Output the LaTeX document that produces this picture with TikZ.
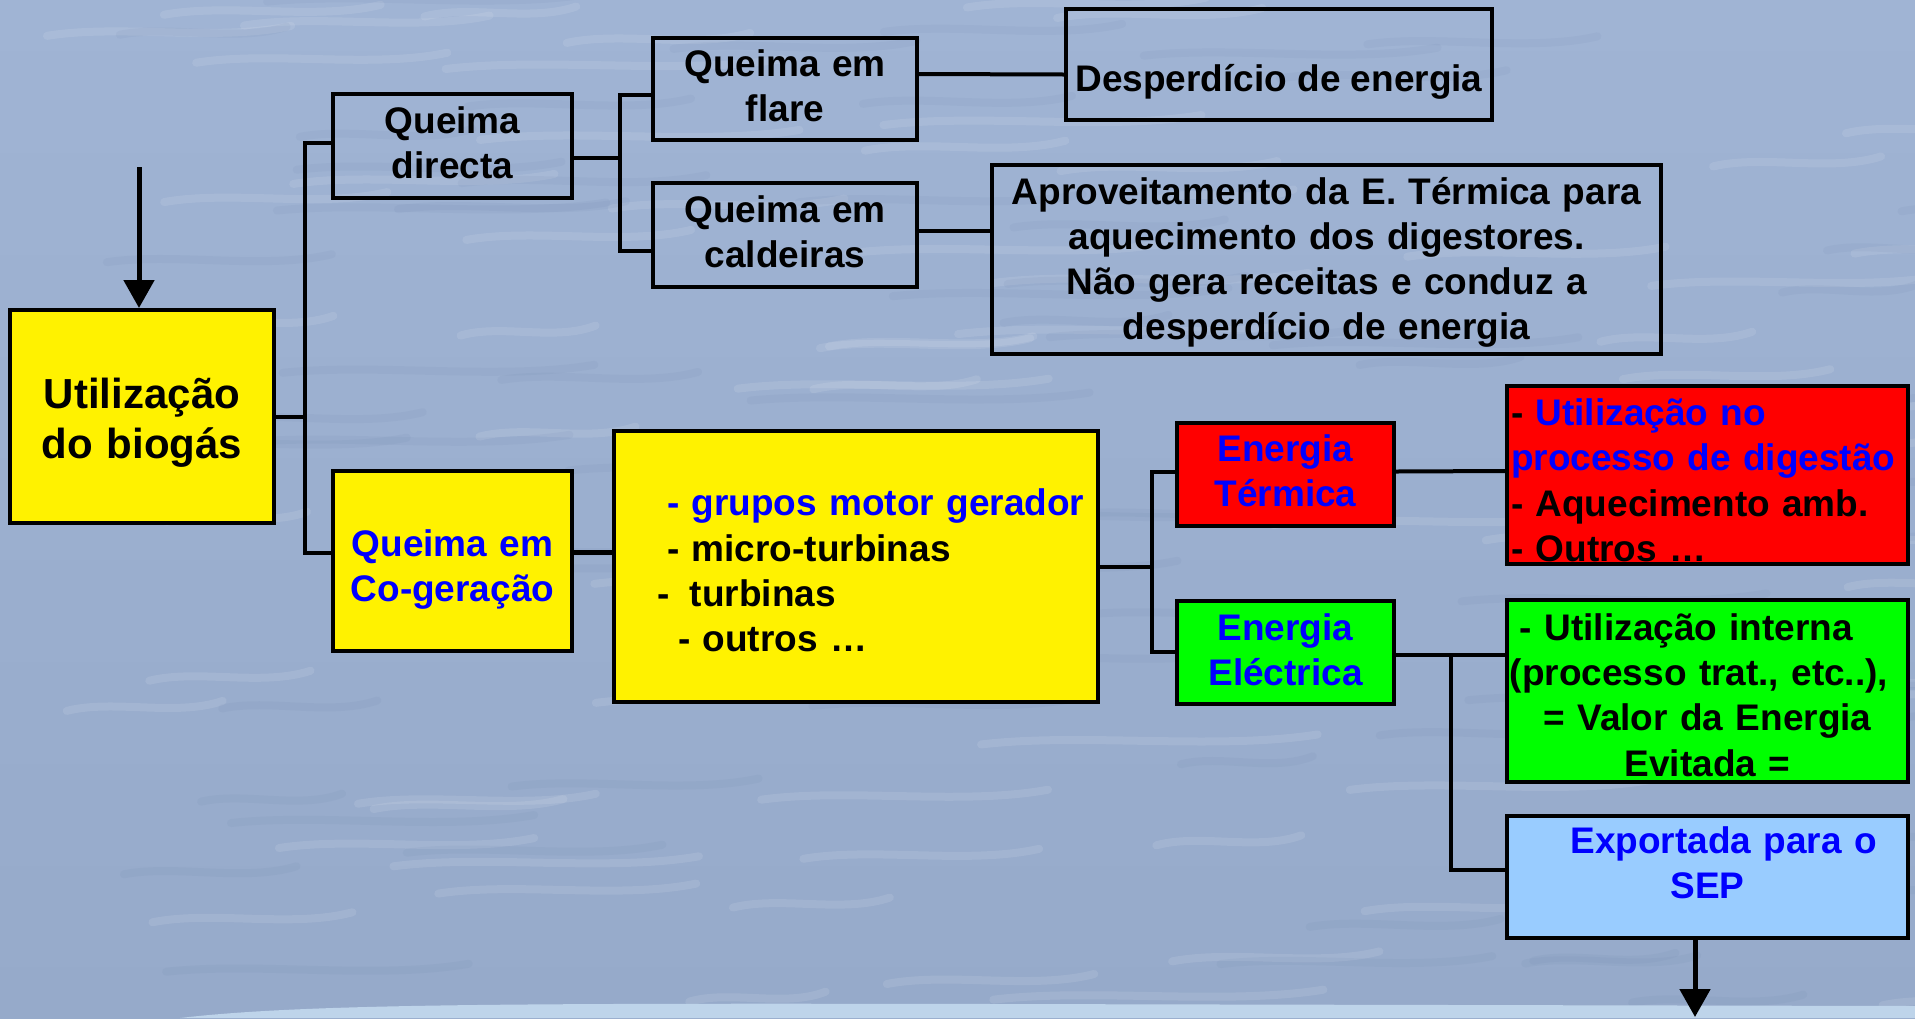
\documentclass[tikz,border=0pt]{standalone}
\usepackage{fontspec}
\setmainfont{Liberation Sans}
\usepackage{xcolor}
\usepackage{tikz}
\usetikzlibrary{arrows.meta}
\definecolor{sepblue}{RGB}{153,204,255}
\definecolor{watertop}{RGB}{160,180,212}
\definecolor{watermid}{RGB}{172,194,226}
\definecolor{waterbot}{RGB}{150,170,202}
\definecolor{waterdark}{RGB}{105,128,168}
\definecolor{waterband}{RGB}{190,212,234}
\tikzset{
  box/.style = {rectangle, draw=black, line width=2pt, inner sep=0pt,
    align=center, font=\bfseries\fontsize{18.5}{22.6}\selectfont},
  ybox/.style = {box, fill=yellow},% caixa amarela
  rbox/.style = {box, fill=red},% energia termica
  gbox/.style = {box, fill=green},% energia electrica
  lbox/.style = {box, fill=sepblue},% exportacao
  conn/.style = {line width=2pt},
  arr/.style = {line width=2.5pt, -{Triangle[width=15pt,length=14pt]}},
  streakhi/.style = {white, opacity=0.1, line width=4pt, line cap=round},
  streaklo/.style = {waterdark, opacity=0.09, line width=4pt, line cap=round}
}

\begin{document}
\begin{tikzpicture}[x=0.5pt,y=-0.5pt]
\useasboundingbox (0,0) rectangle (1915,1018);
% fundo (agua)
\shade[top color=watertop, middle color=watermid, bottom color=waterbot]
  (0,0) rectangle (1915,1018);
\pgfmathsetseed{42}
\foreach \k in {1,...,70}{
  \pgfmathsetmacro{\sx}{rnd*1915}
  \pgfmathsetmacro{\sy}{rnd*1018}
  \pgfmathsetmacro{\sl}{120+rnd*220}
  \draw[streakhi] (\sx,\sy) .. controls (\sx+0.3*\sl,\sy-12) and (\sx+0.7*\sl,\sy+6) .. (\sx+\sl,\sy-10);
}
\foreach \k in {1,...,70}{
  \pgfmathsetmacro{\sx}{rnd*1915}
  \pgfmathsetmacro{\sy}{rnd*1018}
  \pgfmathsetmacro{\sl}{120+rnd*220}
  \draw[streaklo] (\sx,\sy) .. controls (\sx+0.3*\sl,\sy-10) and (\sx+0.7*\sl,\sy+8) .. (\sx+\sl,\sy-8);
}
\fill[waterband] (180,1018) .. controls (300,1004) and (500,1003) .. (1000,1004)
  -- (1915,1006) -- (1915,1018) -- cycle;

% caixas
\node[ybox, minimum width=132pt, minimum height=106.5pt, text width=132pt,
  text height=49.2pt, text depth=57.3pt,
  font=\bfseries\fontsize{21}{25}\selectfont] (util) at (142,416.5) {Utilização\\do biogás};
\node[box, minimum width=119.5pt, minimum height=52pt, text width=119.5pt,
  text height=19.8pt, text depth=32.2pt] (directa) at (452.5,146) {Queima\\directa};
\node[ybox, text=blue, minimum width=119.5pt, minimum height=90pt, text width=119.5pt,
  text height=42.7pt, text depth=47.3pt] (cogen) at (452.5,561) {Queima em\\Co-geração};
\node[box, minimum width=132pt, minimum height=51pt, text width=132pt,
  text height=19.3pt, text depth=31.7pt] (flare) at (785,89) {Queima em\\flare};
\node[box, minimum width=132pt, minimum height=52pt, text width=132pt,
  text height=19.8pt, text depth=32.2pt] (caldeira) at (785,235) {Queima em\\caldeiras};
\node[box, minimum width=213pt, minimum height=55.5pt,
  text height=41pt, text depth=14.5pt] (desperd) at (1279,64.5) {Desperdício de energia};
\node[box, minimum width=334.5pt, minimum height=94.5pt, text width=334.5pt,
  text height=19.6pt, text depth=74.9pt] (aproveit) at (1326.5,259.5)
  {Aproveitamento da E. Térmica para\\aquecimento dos digestores.\\Não gera receitas e conduz a\\desperdício de energia};
\node[ybox, minimum width=242pt, minimum height=135.5pt, text width=242pt, align=left,
  text height=42.4pt, text depth=93.1pt] (grupos) at (856,566.5)
  {\hspace*{26.5pt}\textcolor{blue}{- grupos motor gerador}\\
   \hspace*{26.5pt}- micro-turbinas\\
   \hspace*{21.5pt}-\hspace{10.3pt}turbinas\\
   \hspace*{32pt}- outros …};
\node[rbox, text=blue, minimum width=108.5pt, minimum height=51.5pt, text width=108.5pt,
  text height=19.2pt, text depth=32.3pt] (termica) at (1285.5,474.5) {Energia\\Térmica};
\node[gbox, text=blue, minimum width=108.5pt, minimum height=51.5pt, text width=108.5pt,
  text height=19.8pt, text depth=31.7pt] (electrica) at (1285.5,652) {Energia\\Eléctrica};
\node[rbox, minimum width=200.5pt, minimum height=89pt, text width=196.5pt,
  inner xsep=2pt, align=left, text height=19.8pt, text depth=69.2pt] (termuso) at (1707.5,475)
  {- \textcolor{blue}{Utilização no}\\\textcolor{blue}{processo de digestão}\\- Aquecimento amb.\\- Outros …};
\node[gbox, minimum width=200.5pt, minimum height=91pt, text width=200.5pt,
  text height=20.2pt, text depth=70.8pt] (elecuso) at (1707.5,691)
  {- Utilização interna\rule{21pt}{0pt}\\(processo trat., etc..),\rule{8.5pt}{0pt}\\= Valor da Energia\\Evitada =};
\node[lbox, text=blue, minimum width=200.5pt, minimum height=61pt, text width=200.5pt,
  text height=18.5pt, text depth=42.5pt] (sep) at (1707.5,877) {\hspace*{16pt}Exportada para o\\SEP};

% ligacoes
\coordinate (j1) at (305,416);
\coordinate (j2) at (620,158);
\coordinate (j3) at (1152,567);
\coordinate (j4) at (1451,655);
\coordinate (in) at (139,167);
\coordinate (out) at (1695,1017);

\draw[conn] (util.east) -- (util.east -| j1);
\draw[conn] ([yshift=1.5pt]directa.west) -| (j1) |- ([yshift=4pt]cogen.west);
\draw[conn] ([yshift=-6pt]directa.east) -- (j2);
\draw[conn] ([yshift=-3pt]flare.west) -| (j2) |- ([yshift=-8pt]caldeira.west);
\draw[conn] ([yshift=7.5pt]flare.east) -- ([yshift=-5pt]desperd.west);
\draw[conn] ([yshift=2pt]caldeira.east) -- ([yshift=14.25pt]aproveit.west);
\draw[conn, line width=2.5pt] ([yshift=4.5pt]cogen.east) -- ([yshift=7.25pt]grupos.west);
\draw[conn] (grupos.east) -- (grupos.east -| j3);
\draw[conn] ([yshift=1.25pt]termica.west) -| (j3) |- (electrica.west);
\draw[conn] ([yshift=1.5pt]termica.east) -- ([yshift=2pt]termuso.west);
\draw[conn] ([yshift=-1.5pt]electrica.east) -- ([yshift=18pt]elecuso.west);
\draw[conn] (j4) |- ([yshift=3.5pt]sep.west);

\draw[arr] (in) -- (in |- util.north);
\draw[arr] (sep.south -| out) -- (out);
\end{tikzpicture}
\end{document}
